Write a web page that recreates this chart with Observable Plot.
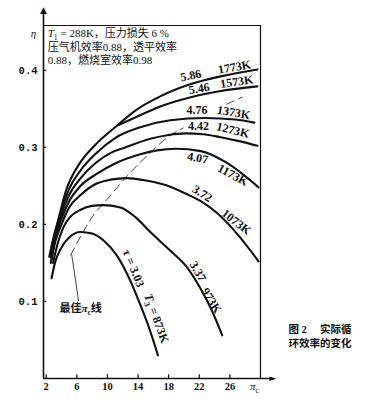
<!DOCTYPE html>
<html><head><meta charset="utf-8">
<script src="https://cdn.jsdelivr.net/npm/d3@7"></script>
<script src="https://cdn.jsdelivr.net/npm/@observablehq/plot@0.6"></script>
<style>
body{margin:0;background:#fff;}
#chart{width:376px;height:400px;}
</style></head><body><div id="chart"></div>
<script>
// ---- axes ----
const xDomain = [1.65, 30];
const yDomain = [0, 0.458];
const xTicks = [2, 6, 10, 14, 18, 22, 26];
const yTicks = [0.1, 0.2, 0.3, 0.4];
const xArrowEnd = 31.6;
const yArrowTop = 0.478;

// ---- curves (compressor pressure ratio πc vs efficiency η) ----
const curveT = ["873K", "973K", "1073K", "1173K", "1273K", "1373K", "1573K", "1773K"];
const pi873  = [2.7, 3.2, 4.0, 5.0, 6.5, 8.0, 9.5, 11.2, 12.8, 14.2, 15.5, 16.6];
const eta873 = [0.130, 0.152, 0.170, 0.183, 0.190, 0.188, 0.179, 0.160, 0.131, 0.098, 0.064, 0.030];
const pi973  = [2.9, 3.5, 4.2, 5.0, 6.5, 8.0, 9.4, 11.7, 13.7, 15.6, 18.2, 20.5, 22.2, 23.7, 25.0];
const eta973 = [0.150, 0.175, 0.195, 0.208, 0.219, 0.224, 0.225, 0.222, 0.209, 0.190, 0.166, 0.143, 0.116, 0.087, 0.056];
const pi1073  = [2.6, 3.2, 4.0, 5.0, 6.5, 8.4, 10.4, 12.5, 15.0, 17.6, 20.2, 22.2, 24.4, 27.0, 29.75];
const eta1073 = [0.150, 0.178, 0.200, 0.222, 0.238, 0.252, 0.258, 0.260, 0.257, 0.251, 0.240, 0.230, 0.214, 0.187, 0.152];
const pi1173  = [2.7, 3.2, 4.0, 5.0, 6.5, 8.7, 11.0, 14.3, 16.5, 18.9, 22.2, 25.4, 29.75];
const eta1173 = [0.155, 0.182, 0.207, 0.230, 0.250, 0.266, 0.279, 0.291, 0.296, 0.298, 0.295, 0.281, 0.248];
const pi1273  = [2.7, 3.2, 4.0, 5.0, 6.5, 8.5, 10.5, 12.4, 15.6, 18.0, 20.2, 22.5, 24.8, 27.2, 29.6];
const eta1273 = [0.157, 0.186, 0.213, 0.238, 0.260, 0.280, 0.293, 0.300, 0.311, 0.316, 0.318, 0.317, 0.313, 0.308, 0.302];
const pi1373  = [2.6, 3.2, 4.0, 5.0, 6.5, 8.5, 11.0, 14.3, 18.2, 22.8, 26.7, 29.2];
const eta1373 = [0.158, 0.190, 0.218, 0.246, 0.270, 0.292, 0.312, 0.326, 0.335, 0.338, 0.336, 0.332];
const pi1573  = [11.45, 13.7, 16.9, 20.9, 24.8, 29.6];
const eta1573 = [0.329, 0.339, 0.353, 0.365, 0.373, 0.379];
const pi1773  = [2.4, 3.0, 3.5, 4.6, 6.5, 8.4, 11.0, 13.7, 16.9, 20.9, 24.8, 29.6];
const eta1773 = [0.158, 0.185, 0.203, 0.244, 0.281, 0.303, 0.326, 0.348, 0.366, 0.382, 0.392, 0.401];

const curvePi  = [pi873, pi973, pi1073, pi1173, pi1273, pi1373, pi1573, pi1773];
const curveEta = [eta873, eta973, eta1073, eta1173, eta1273, eta1373, eta1573, eta1773];

// optimum πc line (two visible pieces) and its pointer
const optPiA  = [5.2, 6.7, 8.4, 9.4, 12.5, 15.6, 18.0, 19.9];
const optEtaA = [0.160, 0.188, 0.215, 0.226, 0.262, 0.293, 0.314, 0.325];
const optPiB  = [25.6, 27.6];
const optEtaB = [0.356, 0.365];
const pointerPi  = [6.23, 5.35];
const pointerEta = [0.101, 0.160];
const pointerLabel = ["最佳~π_c线"];
const pointerLabelPi = [6.5];
const pointerLabelEta = [0.091];

// curve labels: ratio τ and temperature T3
const ratioText  = ["5.86", "5.46", "4.76", "4.42", "4.07", "3.72", "3.37", "τ = 3.03"];
const ratioPi    = [20.9, 22.0, 21.7, 21.9, 21.8, 22.4, 21.8, 13.4];
const ratioEta   = [0.393, 0.376, 0.348, 0.327, 0.286, 0.240, 0.139, 0.143];
const ratioAngle = [-12, -10, 0, 0, 10, 32, 60, 68];
const tempText   = ["1773K", "1573K", "1373K", "1273K", "1173K", "1073K", "973K", "~T_3 = 873K"];
const tempPi     = [26.6, 26.9, 26.5, 26.4, 26.4, 26.85, 23.6, 16.4];
const tempEta    = [0.404, 0.385, 0.345, 0.322, 0.264, 0.203, 0.101, 0.078];
const tempAngle  = [-10, -8, 10, 14, 28, 38, 58, 70];

// notes
const noteLines = ["~T_1 = 288K，压力损失 6 %", "压气机效率0.88，透平效率", "0.88，燃烧室效率0.98"];
const notePi  = [2.2, 2.2, 2.2];
const noteEta = [0.448, 0.430, 0.412];
const axisLabels = ["~η", "~π_c"];
const axisLabelPi = [0.35, 29.2];
const axisLabelEta = [0.448, -0.010];
const captionLines = ["图 2　 实际循", "环效率的变化"];

const curveRows = curveT.flatMap((T, i) => curvePi[i].map((p, j) => ({T, pi: p, eta: curveEta[i][j]})));
const optRows = [
  ...optPiA.map((p, i) => ({seg: "A", pi: p, eta: optEtaA[i]})),
  ...optPiB.map((p, i) => ({seg: "B", pi: p, eta: optEtaB[i]}))
];
const pointerRows = pointerPi.map((p, i) => ({pi: p, eta: pointerEta[i]}));

const serif = '"Liberation Serif", "Noto Sans CJK SC", serif';
const cjk = '"Liberation Serif", "Noto Sans CJK SC", sans-serif';

const svg = Plot.plot({
  width: 376, height: 400,
  marginLeft: 43, marginRight: 116, marginTop: 25, marginBottom: 22,
  x: {domain: xDomain},
  y: {domain: yDomain},
  style: {fontFamily: serif, fontSize: "11px", background: "#fff", color: "#111"},
  marks: [
    Plot.axisX(xTicks, {tickSize: 0, tickPadding: 4, fontSize: 10.5, fontWeight: "bold", label: null}),
    Plot.axisY(yTicks, {tickSize: 0, tickPadding: 6, tickFormat: d => d.toFixed(1), fontFamily: '"Liberation Mono", monospace', fontSize: 10.5, fontWeight: "bold", label: null}),
    // frame & axes
    Plot.ruleY([yDomain[1]], {x1: xDomain[0], x2: xDomain[1], stroke: "#111", strokeWidth: 1.2}),
    Plot.ruleX([xDomain[1]], {y1: yDomain[0], y2: yDomain[1], stroke: "#111", strokeWidth: 1.2}),
    Plot.ruleY([0], {x1: xDomain[0], x2: xArrowEnd - 0.3, stroke: "#111", strokeWidth: 1.6}),
    Plot.ruleX([xDomain[0]], {y1: 0, y2: yArrowTop - 0.004, stroke: "#111", strokeWidth: 1.6}),
    Plot.text(["►"], {x: xArrowEnd, y: 0, text: d => d, fontSize: 9, fill: "#111", fontFamily: "DejaVu Sans"}),
    Plot.text(["▲"], {x: xDomain[0], y: yArrowTop, text: d => d, fontSize: 9, fill: "#111", fontFamily: "DejaVu Sans"}),
    Plot.ruleY(yTicks, {x1: xDomain[0], x2: xDomain[0] + 0.4, stroke: "#111", strokeWidth: 1.2}),
    Plot.ruleX(xTicks, {y1: 0, y2: 0.005, stroke: "#111", strokeWidth: 1.2}),
    // curves
    Plot.line(curveRows, {x: "pi", y: "eta", z: "T", stroke: "#111", strokeWidth: 2.1, curve: "monotone-x"}),
    Plot.line(optRows, {x: "pi", y: "eta", z: "seg", stroke: "#111", strokeWidth: 0.8, strokeDasharray: "8,5", curve: "monotone-x"}),
    Plot.line(pointerRows, {x: "pi", y: "eta", stroke: "#111", strokeWidth: 0.8}),
    // labels
    Plot.text(d3.range(ratioText.length), {x: i => ratioPi[i], y: i => ratioEta[i], text: i => ratioText[i], rotate: i => ratioAngle[i], fontSize: 12, fontWeight: "bold", fill: "#111"}),
    Plot.text(d3.range(tempText.length), {x: i => tempPi[i], y: i => tempEta[i], text: i => tempText[i], rotate: i => tempAngle[i], fontSize: 12, fontWeight: "bold", fill: "#111"}),
    Plot.text(d3.range(pointerLabel.length), {x: i => pointerLabelPi[i], y: i => pointerLabelEta[i], text: i => pointerLabel[i], fontSize: 11, fontWeight: "bold", fontFamily: cjk, fill: "#111"}),
    Plot.text(d3.range(noteLines.length), {x: i => notePi[i], y: i => noteEta[i], text: i => noteLines[i], textAnchor: "start", fontSize: 11, fontFamily: cjk, fill: "#111"}),
    Plot.text(d3.range(axisLabels.length), {x: i => axisLabelPi[i], y: i => axisLabelEta[i], text: i => axisLabels[i], fontSize: 11, fill: "#111"}),
    Plot.text([captionLines[0]], {frameAnchor: "bottom-right", text: d => d, textAnchor: "start", dx: 28, dy: -46, fontSize: 10.5, fontWeight: "bold", fontFamily: cjk, fill: "#111", ariaLabel: "caption"}),
    Plot.text([captionLines[1]], {frameAnchor: "bottom-right", text: d => d, textAnchor: "start", dx: 28, dy: -32, fontSize: 10.5, fontWeight: "bold", fontFamily: cjk, fill: "#111", ariaLabel: "caption"})
  ]
});

function rich(el) {
  const s = el.textContent;
  if (!/[_~]/.test(s)) return;
  while (el.firstChild) el.removeChild(el.firstChild);
  const ns = "http://www.w3.org/2000/svg";
  let i = 0, shift = 0, buf = "";
  const flush = () => {
    if (!buf) return;
    const t = document.createElementNS(ns, "tspan");
    t.textContent = buf;
    if (shift) { t.setAttribute("dy", -shift); shift = 0; }
    el.appendChild(t); buf = "";
  };
  while (i < s.length) {
    const c = s[i];
    if (c === "_" || c === "~") {
      flush();
      const t = document.createElementNS(ns, "tspan");
      t.textContent = s[i + 1];
      if (c === "_") { t.setAttribute("font-size", "0.7em"); t.setAttribute("dy", 3 - shift); shift = 3; }
      else { t.setAttribute("font-style", "italic"); if (shift) { t.setAttribute("dy", -shift); shift = 0; } }
      el.appendChild(t);
      i += 2;
    } else { buf += c; i++; }
  }
  flush();
}
d3.select(svg).selectAll("text").each(function () { rich(this); });
d3.select(svg).selectAll('g[aria-label="caption"] text').attr("letter-spacing", "2px");
document.getElementById("chart").appendChild(svg);
</script></body></html>
